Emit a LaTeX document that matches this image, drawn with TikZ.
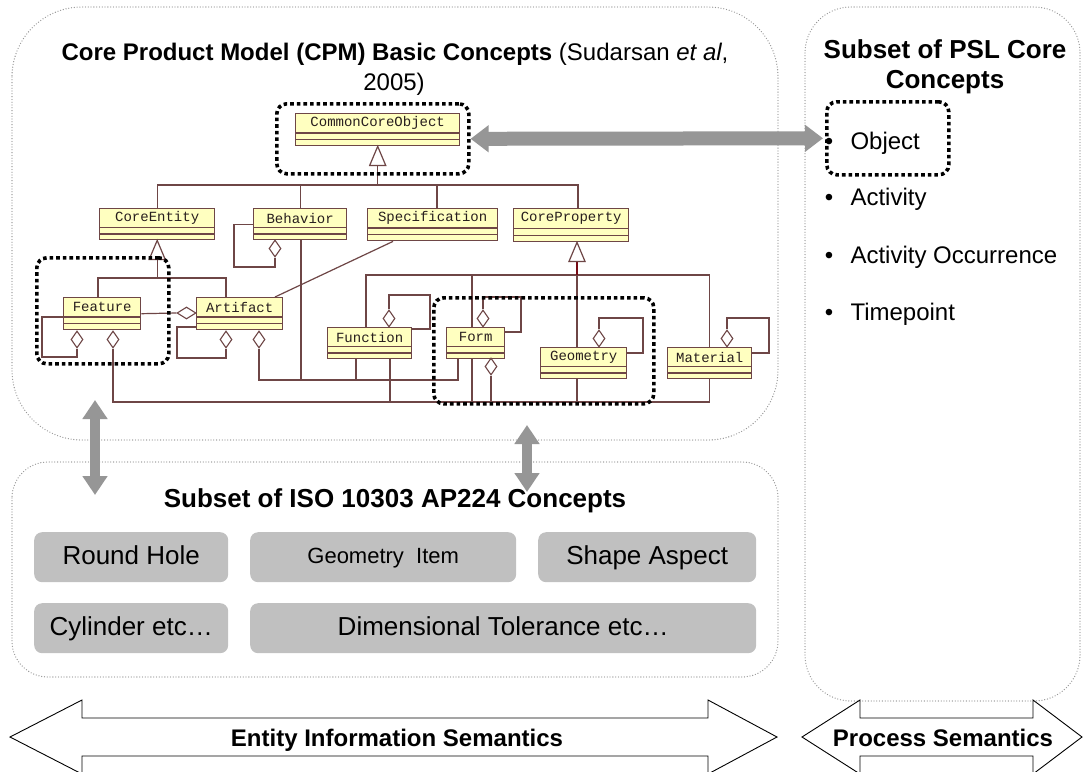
\documentclass[tikz,border=0pt]{standalone}
\usepackage{fontspec}
\setmainfont{Liberation Sans}
\newfontfamily\umlmono{Liberation Mono}
\usetikzlibrary{arrows.meta,shapes.geometric,calc}

\pgfdeclarelayer{background}
\pgfsetlayers{background,main}

\definecolor{panelgray}{RGB}{150,150,150}
\definecolor{linkgray}{RGB}{150,150,150}
\definecolor{conceptgray}{RGB}{192,192,192}
\definecolor{umlfill}{RGB}{255,255,192}
\definecolor{umlline}{RGB}{110,70,70}
\definecolor{umltext}{RGB}{40,30,30}
\definecolor{inhred}{RGB}{120,10,20}

\tikzset{
  panel/.style={draw=panelgray, line width=1.3pt, line cap=round, dash pattern=on 0pt off 2.8pt},
  focus/.style={draw=black, line width=3.6pt, dash pattern=on 3.6pt off 3pt, rounded corners=10pt, inner sep=0pt, anchor=north west},
  concept/.style={fill=conceptgray, draw=none, rounded corners=8pt, inner sep=0pt, anchor=north west,
    font=\fontsize{26}{30}\selectfont, text height=19pt, text depth=5pt},
  umlbox/.style={draw=umlline, fill=umlfill, line width=1.4pt, inner sep=0pt, anchor=north west},
  uml/.style={draw=umlline, line width=1.2pt},
  agg/.style={diamond, draw=umlline, fill=white, line width=1.1pt, inner sep=0pt, minimum width=12pt, minimum height=17pt},
  hagg/.style={agg, minimum width=19pt, minimum height=12pt},
  gen/.style={draw=umlline, fill=white, line width=1.2pt},
  link/.style={draw=linkgray, line width=14pt, {Triangle[length=18pt,width=26pt]}-{Triangle[length=18pt,width=26pt]}},
  vlink/.style={draw=linkgray, line width=10pt, {Triangle[length=19pt,width=24pt]}-{Triangle[length=19pt,width=24pt]}},
  band/.style={draw=black, fill=white, line width=0.9pt},
  headline/.style={font=\bfseries\fontsize{26}{30}\selectfont, anchor=base},
  item/.style={font=\fontsize{24}{28}\selectfont, anchor=base west},
}

% class box: name, left, top, right, bottom, label
\newcommand\umlclass[6]{%
  \node[umlbox, minimum width={#4-#2}, minimum height={#5-#3}] (#1) at (#2,#3) {};
  \draw[uml] ($(#1.north west)!0.6!(#1.south west)$) -- ($(#1.north east)!0.6!(#1.south east)$);
  \draw[uml] ($(#1.north west)!0.8!(#1.south west)$) -- ($(#1.north east)!0.8!(#1.south east)$);
  \node[font=\umlmono\fontsize{14}{15}\selectfont, text=umltext] (#1-name) at ($(#1.north)!0.31!(#1.south)$) {#6};
}

\begin{document}
\begin{tikzpicture}[x=1pt, y=-1pt]
\useasboundingbox (0,0) rectangle (1084,771);
\clip (0,0) rectangle (1084,771);
\begin{pgfonlayer}{background}
  \fill[white] (0,0) rectangle (1084,771);
\end{pgfonlayer}

% ---------- panels ----------
\draw[panel, rounded corners=70pt] (12,7) rectangle (778,440);
\draw[panel, rounded corners=36pt] (12,462) rectangle (778,677);
\draw[panel, rounded corners=46pt] (805,7) rectangle (1080,701);

% ---------- CPM title ----------
\node[font=\fontsize{24}{30}\selectfont, anchor=base] (cpm1) at (395,60)
  {\textbf{Core Product Model (CPM) Basic Concepts} (Sudarsan \textit{et al},};
\node[font=\fontsize{24}{30}\selectfont, anchor=base] (cpm2) at (394,90) {2005)};

% ---------- CPM class diagram ----------
\umlclass{CCO}{295}{113}{459}{145}{CommonCoreObject}
\umlclass{CE}{99}{208}{214}{239}{CoreEntity}
\umlclass{Beh}{253}{208}{346}{239}{Behavior}
\umlclass{Spec}{367}{208}{497}{240}{Specification}
\umlclass{CP}{513}{208}{628}{241}{CoreProperty}
\umlclass{Feat}{63}{297}{140}{329}{Feature}
\umlclass{Art}{196}{297}{282}{329}{Artifact}
\umlclass{Func}{327}{327}{411}{358}{Function}
\umlclass{Form}{446}{327}{504}{358}{Form}
\umlclass{Geo}{540}{347}{626}{378}{Geometry}
\umlclass{Mat}{667}{347}{751}{378}{Material}

% aggregation diamonds
\node[agg] (dF1) at (77,339.5) {};
\node[agg] (dF2) at (113,339.5) {};
\node[agg] (dA1) at (226,339.5) {};
\node[agg] (dA2) at (259,339.5) {};
\node[agg] (dB) at (275,248.5) {};
\node[hagg] (dFA) at (186.5,313) {};
\node[agg] (dFu) at (389,318.5) {};
\node[agg] (dFo) at (483,318.5) {};
\node[agg] (dFb) at (491,366.5) {};
\node[agg] (dG) at (599,338.5) {};
\node[agg] (dM) at (727,338.5) {};

% generalisation triangles
\draw[gen] (CCO.south) -- ++(-8,19) -- ++(16,0) -- cycle;
\draw[gen] (CE.south) -- ++(-8,19) -- ++(16,0) -- cycle;
\draw[gen] (577,0 |- CP.south) -- ++(-8,19) -- ++(16,0) -- cycle;

\begin{pgfonlayer}{background}
  % inheritance from CommonCoreObject
  \draw[uml] (CCO.south) -- (CCO.south |- 0,185);
  \draw[uml] (CE.north) |- (578,185) -- (578,0 |- CP.north);
  \draw[uml] (Beh.north) -- (Beh.north |- 0,185);
  \draw[uml] (437,0 |- Spec.north) -- (437,185);
  % inheritance from CoreEntity
  \draw[uml] (CE.south) -- (CE.south |- 0,278);
  \draw[uml] (98,0 |- Feat.north) |- (226,278) -- (226,0 |- Art.north);
  % Feature
  \draw[uml] (Feat.west |- 0,317) -| (42,357) -| (dF1.south);
  \draw[uml] (dF2.south) |- (Mat.south |- 0,402) -- (Mat.south);
  \draw[uml] (Feat.east) -- (dFA.west);
  % Artifact
  \draw[uml] (Art.west |- 0,327) -| (177,358) -| (dA1.south);
  \draw[uml] (dA2.south) |- (458,380) -- (458,0 |- Form.south);
  % Behavior
  \draw[uml] (dB.south) |- (234,267) |- (Beh.west);
  \draw[uml] (301,0 |- Beh.south) -- (301,380);
  % Specification
  \draw[uml] (393,0 |- Spec.south) -- (275,0 |- Art.north);
  % Function / Form / Material bus
  \draw[uml] (366,0 |- Func.north) |- (Mat.north |- 0,275) -- (Mat.north);
  \draw[uml] (472,275) -- (472,402);
  \draw[uml] (356,0 |- Func.south) -- (356,380);
  \draw[uml] (390,0 |- Func.south) -- (390,402);
  \draw[uml] (dFu.north) |- (430,295) |- ($(Func.north east)+(0,2)$);
  \draw[uml] (dFo.north) |- (521,297) |- ($(Form.north east)+(0,5)$);
  \draw[uml] (dFb.south) -- (dFb.south |- 0,402);
  % CoreProperty / Geometry / Material
  \draw[uml, draw=inhred, line width=2.4pt] (577,260) -- (577,275);
  \draw[uml] (577,275) -- (577,0 |- Geo.north);
  \draw[uml] (577,0 |- Geo.south) -- (577,402);
  \draw[uml] (dG.north) |- (643,318) |- ($(Geo.north east)+(0,6)$);
  \draw[uml] (dM.north) |- (769,318) |- ($(Mat.north east)+(0,6)$);
\end{pgfonlayer}

% ---------- highlighted groups ----------
\node[focus, minimum width=192, minimum height=70] (fCCO) at (275,102) {};
\node[focus, minimum width=132, minimum height=106] (fFeat) at (35,256) {};
\node[focus, minimum width=220, minimum height=106] (fForm) at (432,296) {};
\node[focus, minimum width=122, minimum height=73] (fObj) at (825,100) {};

% ---------- PSL panel ----------
\node[headline] (pslT1) at (945,58) {Subset of PSL Core};
\node[headline] (pslT2) at (945,88) {Concepts};
\node[item, anchor=base] (b1) at (829,149) {\textbullet};
\node[item] (i1) at (847,149) {Object};
\node[item, anchor=base] (b2) at (829,205) {\textbullet};
\node[item] (i2) at (847,205) {Activity};
\node[item, anchor=base] (b3) at (829,263) {\textbullet};
\node[item] (i3) at (847,263) {Activity Occurrence};
\node[item, anchor=base] (b4) at (829,320) {\textbullet};
\node[item] (i4) at (847,320) {Timepoint};

% ---------- ISO panel ----------
\node[headline] (isoT) at (395,507) {Subset of ISO 10303 AP224 Concepts};
\node[concept, minimum width=194, minimum height=50] (rh) at (34,532) {Round Hole};
\node[concept, minimum width=266, minimum height=50, font=\fontsize{22}{26}\selectfont,
      text height=17pt, text depth=4pt] (gi) at (250,532) {Geometry\ \ Item};
\node[concept, minimum width=218, minimum height=50] (sa) at (538,532) {Shape Aspect};
\node[concept, minimum width=194, minimum height=50] (cy) at (34,603) {Cylinder etc…};
\node[concept, minimum width=506, minimum height=50] (dt) at (250,603) {Dimensional Tolerance etc…};

% ---------- links between models ----------
\coordinate (la1) at (95,400);
\coordinate (la2) at (95,495);
\coordinate (lb1) at (527,425);
\coordinate (lb2) at (527,492);
\draw[link] (fCCO.east) -- ($(fObj.west)+(-2,0)$);
\draw[vlink] (la1) -- (la2);
\draw[vlink] (lb1) -- (lb2);

% ---------- semantic bands ----------
\draw[band] (10,737) -- (82,700) -- (82,718) -- (708,718) -- (708,700) -- (777,737)
  -- (708,774) -- (708,756) -- (82,756) -- (82,774) -- cycle;
\draw[band] (802,737) -- (860,700) -- (860,718) -- (1033,718) -- (1033,700) -- (1082,737)
  -- (1033,774) -- (1033,756) -- (860,756) -- (860,774) -- cycle;
\node[font=\bfseries\fontsize{24}{28}\selectfont, anchor=base] (entT) at (397,746) {Entity Information Semantics};
\node[font=\bfseries\fontsize{24}{28}\selectfont, anchor=base] (procT) at (943,746) {Process Semantics};
\end{tikzpicture}
\end{document}
